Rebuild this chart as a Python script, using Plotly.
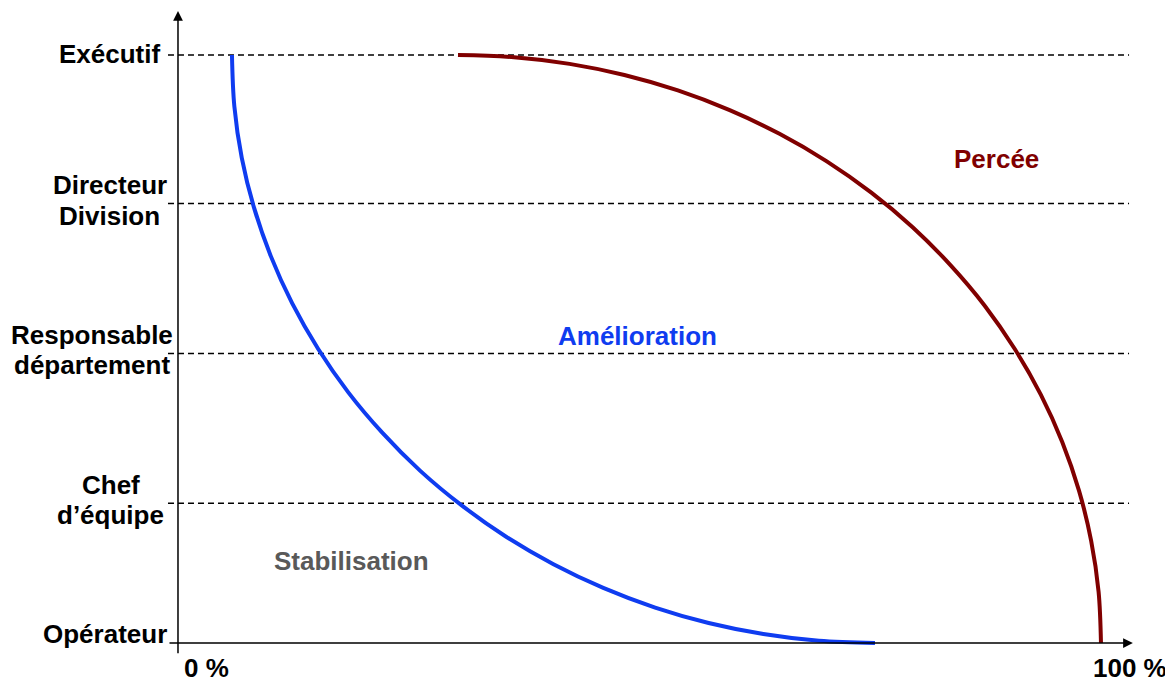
import plotly.graph_objects as go

# ---- data ----
level_labels = ["Opérateur", "Chef<br>d’équipe", "Responsable<br>département",
                "Directeur<br>Division", "Exécutif"]
level_pos = [0, 0.95, 1.97, 2.99, 4.0]

x_tick_labels = ["0 %", "100 %"]
x_tick_pos = [0, 100]

# Amélioration boundary (blue)
blue_x = [5.67, 5.92, 6.70, 7.97, 9.75, 12.0, 14.73, 17.89, 21.48, 25.45, 29.80, 34.47,
          39.44, 44.67, 50.12, 55.74, 61.49, 67.32, 73.21]
blue_y = [4.0, 3.651, 3.30, 2.965, 2.632, 2.310, 2.0, 1.705, 1.429, 1.171, 0.936, 0.723,
          0.536, 0.375, 0.241, 0.136, 0.061, 0.015, 0.0]

# Percée boundary (dark red)
red_x = [29.41, 35.30, 41.13, 46.89, 52.51, 57.95, 63.18, 68.15, 72.83, 77.17, 81.14, 84.74,
         87.90, 90.63, 92.88, 94.65, 95.92, 96.70, 96.95]
red_y = [4.0, 3.985, 3.940, 3.864, 3.759, 3.625, 3.464, 3.277, 3.064, 2.829, 2.571, 2.295,
         2.0, 1.690, 1.368, 1.035, 0.695, 0.349, 0.0]

zone_labels = ["Stabilisation", "Amélioration", "Percée"]
zone_x = [18.2, 48.3, 86.0]
zone_y = [0.56, 2.09, 3.29]

BLUE = "#0f3cf0"
RED = "#800000"
GRAY = "#595959"
FONT = "Liberation Sans, Arial, sans-serif"
FS = 26

# label block centre offsets (px from the y axis) and vertical shifts
label_dx = [-73, -67, -86, -68, -68]
single_shift = {0: 9.5, 4: 1.5}
double_shift = (18.5, -12)

fig = go.Figure()
fig.add_trace(go.Scatter(x=blue_x, y=blue_y, mode="lines",
                         line=dict(color=BLUE, width=4, shape="spline", smoothing=1.0),
                         hoverinfo="skip", cliponaxis=False))
fig.add_trace(go.Scatter(x=red_x, y=red_y, mode="lines",
                         line=dict(color=RED, width=4, shape="spline", smoothing=1.0),
                         hoverinfo="skip", cliponaxis=False))

shapes = []
for yv in level_pos[1:]:
    shapes.append(dict(type="line", xref="x", yref="y", x0=-1.05, x1=99.9, y0=yv, y1=yv,
                       line=dict(color="black", width=1.5, dash="6px,4px"), layer="below"))

annotations = []
# axes with arrows
annotations.append(dict(x=0, y=4.30, ax=0, ay=-0.08, xref="x", yref="y", axref="x", ayref="y",
                        showarrow=True, arrowhead=2, arrowsize=1.3, arrowwidth=1.5,
                        arrowcolor="black", text=""))
annotations.append(dict(x=100.3, y=0, ax=-1.05, ay=0, xref="x", yref="y", axref="x", ayref="y",
                        showarrow=True, arrowhead=2, arrowsize=1.3, arrowwidth=1.5,
                        arrowcolor="black", text=""))

# level labels (one annotation per line for tight line spacing)
for i, (lab, yv) in enumerate(zip(level_labels, level_pos)):
    lines = lab.split("<br>")
    shifts = [single_shift.get(i, 0)] if len(lines) == 1 else list(double_shift)
    for ln, sh in zip(lines, shifts):
        annotations.append(dict(x=0, y=yv, xref="x", yref="y", text="<b>%s</b>" % ln,
                                showarrow=False, xanchor="center", yanchor="middle",
                                xshift=label_dx[i], yshift=sh,
                                font=dict(family=FONT, size=FS, color="black")))

# x labels
annotations.append(dict(x=x_tick_pos[0], y=0, xref="x", yref="y", text="<b>%s</b>" % x_tick_labels[0],
                        showarrow=False, xanchor="left", yanchor="middle", xshift=4, yshift=-25,
                        font=dict(family=FONT, size=FS, color="black")))
annotations.append(dict(x=x_tick_pos[1], y=0, xref="x", yref="y", text="<b>%s</b>" % x_tick_labels[1],
                        showarrow=False, xanchor="center", yanchor="middle", yshift=-25,
                        font=dict(family=FONT, size=FS, color="black")))

zone_colors = [GRAY, BLUE, RED]
for lab, xv, yv, c in zip(zone_labels, zone_x, zone_y, zone_colors):
    annotations.append(dict(x=xv, y=yv, xref="x", yref="y", text="<b>%s</b>" % lab,
                            showarrow=False, xanchor="center", yanchor="middle",
                            font=dict(family=FONT, size=FS, color=c)))

fig.update_layout(
    width=1165, height=672,
    margin=dict(l=142, r=33, t=0, b=20, pad=0),
    paper_bgcolor="white", plot_bgcolor="white",
    showlegend=False,
    xaxis=dict(range=[-2.94, 101.05], visible=False, fixedrange=True),
    yaxis=dict(range=[-0.1156, 4.320], visible=False, fixedrange=True),
    shapes=shapes, annotations=annotations,
)

fig.write_html("out.html")
